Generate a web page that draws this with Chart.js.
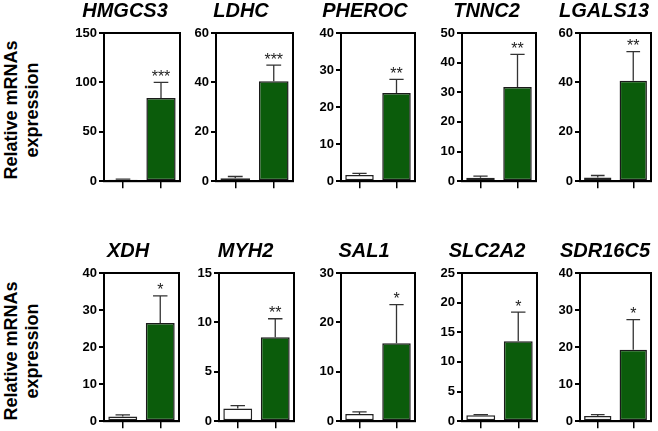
<!DOCTYPE html>
<html><head><meta charset="utf-8">
<script src="https://cdn.jsdelivr.net/npm/chart.js@4.4.1/dist/chart.umd.min.js"></script>
<style>
html,body{margin:0;padding:0;background:#fff;}
#wrap{position:relative;width:658px;height:431px;overflow:hidden;font-family:"Liberation Sans",Arial,sans-serif;}
.panel{position:absolute;}
.ylab{position:absolute;font-weight:bold;font-size:18px;line-height:21px;text-align:center;white-space:nowrap;color:#000;transform:translate(-50%,-50%) rotate(-90deg);}
</style></head>
<body><div id="wrap">
<div class="ylab" style="left:22px;top:110px;">Relative mRNAs<br>expression</div>
<div class="ylab" style="left:22px;top:351px;">Relative mRNAs<br>expression</div>
</div>
<script>
const genes = ['HMGCS3','LDHC','PHEROC','TNNC2','LGALS13','XDH','MYH2','SAL1','SLC2A2','SDR16C5'];
const groups = ['Control','Treated'];
const controlMean  = [1.5, 1.2, 1.7, 1.2, 1.5, 1.26, 1.28, 1.47, 1.0, 1.4];
const controlUpper = [2.0, 1.9, 2.1, 1.7, 2.3, 1.7, 1.58, 1.87, 1.1, 1.8];
const treatedMean  = [84.3, 40.5, 23.8, 31.8, 40.7, 26.5, 8.49, 15.8, 13.5, 19.3];
const treatedUpper = [100, 47, 27.5, 42.8, 52.5, 33.8, 10.37, 23.6, 18.4, 27.4];
const significance = ['***','***','**','**','**','*','**','*','*','*'];
const yMax  = [150, 60, 40, 50, 60, 40, 15, 30, 25, 40];
const yStep = [50, 20, 10, 10, 20, 10, 5, 10, 5, 10];

// layout: [canvasLeft, canvasTop, plotLeft, plotRight]
const layout = [
  [70,0,104,180],[189,0,216,293],[315,0,341,415],[437,0,462,536],[557,0,580,651],
  [77,240,104,179],[197,240,219,294],[313,240,341,415],[437,240,462,537],[559,240,580,651]
];
const GREEN = '#0b5c0b';
const CH = 191;

const framePlugin = {
  id:'frame',
  afterDatasetsDraw(chart){
    const {ctx, chartArea:a} = chart;
    const yS = chart.scales.y;
    const idx = chart.options.plugins.frame.idx;
    const uppers = [controlUpper[idx], treatedUpper[idx]];
    const meta = chart.getDatasetMeta(0);
    ctx.save();
    meta.data.forEach((bar,i)=>{
      const yTop = yS.getPixelForValue(uppers[i]);
      const cw = bar.width*0.5;
      ctx.strokeStyle = '#333';
      ctx.lineWidth = 1.3;
      ctx.beginPath();
      ctx.moveTo(bar.x, bar.y);
      ctx.lineTo(bar.x, yTop);
      ctx.moveTo(bar.x-cw/2, yTop);
      ctx.lineTo(bar.x+cw/2, yTop);
      ctx.stroke();
      if(i===1){
        ctx.fillStyle = '#222';
        ctx.font = '16px "Liberation Sans", Arial, sans-serif';
        ctx.textAlign = 'center';
        ctx.textBaseline = 'alphabetic';
        ctx.fillText(significance[idx], bar.x, yTop - 0.5);
      }
    });
    ctx.strokeStyle = '#000';
    ctx.lineWidth = 2;
    ctx.strokeRect(a.left, a.top, a.right-a.left, a.bottom-a.top);
    ctx.restore();
  }
};

genes.forEach((g, idx)=>{
  const [cl, ct, pl, pr] = layout[idx];
  const w = pr - cl + 2;
  const div = document.createElement('div');
  div.className = 'panel';
  div.style.left = cl+'px'; div.style.top = ct+'px';
  div.style.width = w+'px'; div.style.height = CH+'px';
  const cv = document.createElement('canvas');
  cv.width = w; cv.height = CH;
  cv.style.width = w+'px'; cv.style.height = CH+'px';
  div.appendChild(cv);
  document.getElementById('wrap').appendChild(div);
  const yW = pl - cl;
  new Chart(cv, {
    type:'bar',
    data:{
      labels: groups,
      datasets:[{
        data:[controlMean[idx], treatedMean[idx]],
        backgroundColor:['#ffffff', GREEN],
        borderColor:['#222','#1a1a1a'],
        borderWidth:1.5,
        borderSkipped:false,
        categoryPercentage:1.0,
        barPercentage:0.77
      }]
    },
    options:{
      responsive:false,
      animation:false,
      devicePixelRatio:1,
      layout:{padding:{top:0,right:2,bottom:0,left:0}},
      plugins:{
        legend:{display:false},
        tooltip:{enabled:false},
        title:{display:true,text:g,color:'#000',
          font:{family:'"Liberation Sans", Arial, sans-serif',size:20,weight:'bold',style:'italic',lineHeight:1.1},
          padding:{top:0,bottom:11}},
        frame:{idx}
      },
      scales:{
        x:{
          afterFit(s){ s.height = 9; },
          ticks:{display:false},
          grid:{display:true,drawOnChartArea:false,offset:false,tickLength:7,color:'#000',lineWidth:1.5},
          border:{display:true,color:'#000',width:2}
        },
        y:{
          min:0,max:yMax[idx],
          afterFit(s){ s.width = yW; },
          ticks:{stepSize:yStep[idx],color:'#000',padding:2,
            font:{family:'"Liberation Sans", Arial, sans-serif',size:13,weight:'bold'}},
          grid:{display:true,drawOnChartArea:false,tickLength:5,color:'#000',lineWidth:2},
          border:{display:true,color:'#000',width:2}
        }
      }
    },
    plugins:[framePlugin]
  });
});
</script>
</body></html>
